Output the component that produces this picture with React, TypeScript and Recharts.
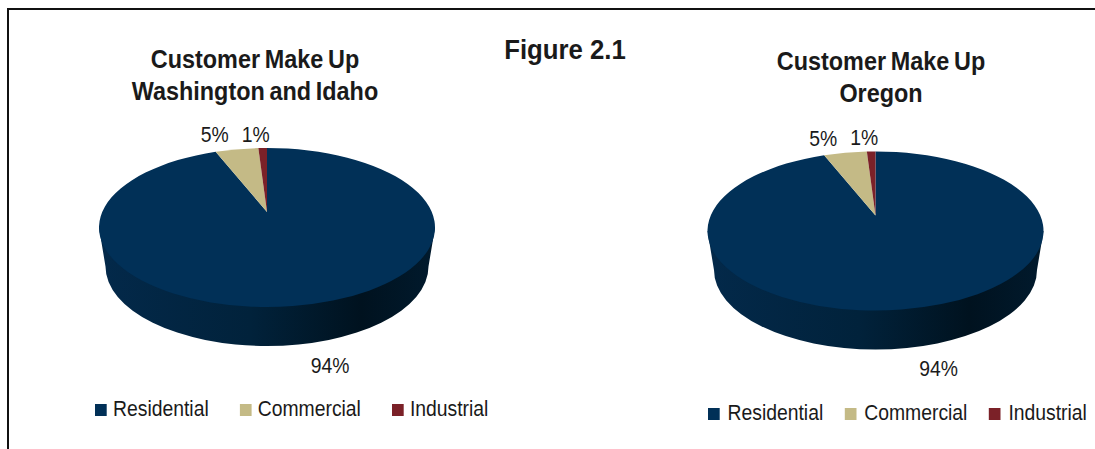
import React from 'react';
import { PieChart, Pie, Cell, Legend } from 'recharts';

const categories = ['Residential', 'Commercial', 'Industrial'];
const washingtonIdahoValues = [94, 5, 1];
const oregonValues = [94, 5, 1];

const COLORS = ['#013057', '#c4ba86', '#7b2128'];
const FONT = '"Liberation Sans", Arial, sans-serif';
const TEXT = '#1a1a1a';

// Pie geometry: the disc is seen in perspective, so the apex sits behind the ellipse centre
const RX = 168;
const RY = 79.5;
const PERSPECTIVE = 0.195;
const BOTTOM_RX = 161.5;
const DEPTH = 39;

// The text in the original is a stretched image, a bit narrower than the font
const LEGEND_SQUEEZE = 0.9;

const LABEL_NUDGE: Record<string, [number, number]> = {
  Residential: [25, 60],
  Commercial: [-22, -15],
  Industrial: [-7, -14],
};

const project = (cx: number, cy: number, angle: number) => {
  const t = ((90 - angle) * Math.PI) / 180;
  const u = Math.sin(t);
  const v = Math.cos(t);
  const d = 1 + PERSPECTIVE * v;
  return {
    x: cx + (RX * u * Math.sqrt(1 - PERSPECTIVE * PERSPECTIVE)) / d,
    y: cy - (RY * (v + PERSPECTIVE)) / d,
  };
};

const renderSlice = (gradientId: string) => (props: any) => {
  const { cx, cy, startAngle, endAngle, fill, name } = props;
  const a = project(cx, cy, startAngle);
  const b = project(cx, cy, endAngle);
  const large = Math.abs(endAngle - startAngle) > 180 ? 1 : 0;
  const top = `M${cx},${cy - RY * PERSPECTIVE} L${a.x},${a.y} A${RX},${RY} 0 ${large} 1 ${b.x},${b.y} Z`;
  // wall runs on under the top face so no seam shows along the front edge
  const wall =
    `M${cx - RX},${cy} L${cx - BOTTOM_RX},${cy + DEPTH} A${BOTTOM_RX},${RY} 0 0 0 ${cx + BOTTOM_RX},${cy + DEPTH} ` +
    `L${cx + RX},${cy} Z`;
  return (
    <g>
      {name === categories[0] && (
        <>
          <defs>
            <linearGradient id={gradientId} x1="0" y1="0" x2="1" y2="0">
              <stop offset="0%" stopColor="#03294a" />
              <stop offset="45%" stopColor="#01223b" />
              <stop offset="78%" stopColor="#00121f" />
              <stop offset="100%" stopColor="#011a2d" />
            </linearGradient>
          </defs>
          <path d={wall} fill={`url(#${gradientId})`} />
        </>
      )}
      <path d={top} fill={fill} />
    </g>
  );
};

const renderPercent = (props: any) => {
  const { cx, cy, midAngle, name, value } = props;
  const p = project(cx, cy, midAngle);
  const [dx, dy] = LABEL_NUDGE[name];
  return (
    <text
      transform={`translate(${p.x + dx},${p.y + dy}) scale(0.88,1)`}
      textAnchor="middle"
      dominantBaseline="central"
      fontFamily={FONT}
      fontSize={22}
      fill={TEXT}
    >
      {`${value}%`}
    </text>
  );
};

const makeLegend = (iconGap: number, itemGap: number) => () => (
  <div
    style={{
      display: 'flex',
      alignItems: 'center',
      fontFamily: FONT,
      fontSize: 21.5,
      color: TEXT,
      whiteSpace: 'nowrap',
      transform: `scaleX(${LEGEND_SQUEEZE})`,
      transformOrigin: 'left center',
    }}
  >
    {categories.map((c, i) => (
      <div key={c} style={{ display: 'flex', alignItems: 'center', marginRight: itemGap / LEGEND_SQUEEZE }}>
        <span style={{ width: 12 / LEGEND_SQUEEZE, height: 12, background: COLORS[i], marginRight: iconGap / LEGEND_SQUEEZE }} />
        {c}
      </div>
    ))}
  </div>
);

function MakeUpPie({ values, id, cx, cy, legendX, legendY, iconGap, itemGap }: any) {
  const data = categories.map((name, i) => ({ name, value: values[i] }));
  return (
    <PieChart width={560} height={449} margin={{ top: 0, right: 0, bottom: 0, left: 0 }}>
      <Pie
        data={data}
        dataKey="value"
        nameKey="name"
        cx={cx}
        cy={cy}
        outerRadius={RX}
        startAngle={90}
        endAngle={-270}
        stroke="none"
        labelLine={false}
        label={renderPercent}
        shape={renderSlice(id)}
        isAnimationActive={false}
      >
        {data.map((d, i) => (
          <Cell key={d.name} fill={COLORS[i]} />
        ))}
      </Pie>
      <Legend
        content={makeLegend(iconGap, itemGap)}
        wrapperStyle={{ position: 'absolute', left: legendX, top: legendY, width: 520, bottom: 'auto' }}
      />
    </PieChart>
  );
}

const titleStyle: React.CSSProperties = {
  position: 'absolute',
  width: 400,
  textAlign: 'center',
  fontFamily: FONT,
  fontWeight: 'bold',
  fontSize: 26,
  lineHeight: '32px',
  wordSpacing: -2,
  color: TEXT,
  transform: 'scaleX(0.9)',
};

export default function App() {
  return (
    <div style={{ position: 'absolute', left: 0, top: 0, width: 1095, height: 449, overflow: 'hidden', background: '#fff' }}>
      <div style={{ position: 'absolute', left: 7, top: 8, width: 1088, height: 441, borderTop: '2px solid #111', borderLeft: '2px solid #111', boxSizing: 'border-box' }} />
      <div style={{ position: 'absolute', left: 0, top: 0 }}>
        <MakeUpPie values={washingtonIdahoValues} id="wallLeft" cx={267} cy={227.5} legendX={95} legendY={397} iconGap={6} itemGap={31} />
      </div>
      <div style={{ position: 'absolute', left: 535, top: 0 }}>
        <MakeUpPie values={oregonValues} id="wallRight" cx={340.5} cy={231} legendX={173} legendY={401} iconGap={7.5} itemGap={21.5} />
      </div>
      <div style={{ ...titleStyle, left: 55, top: 43 }}>Customer Make Up<br />Washington and Idaho</div>
      <div style={{ ...titleStyle, left: 681, top: 45 }}>Customer Make Up<br />Oregon</div>
      <div style={{ ...titleStyle, left: 365, top: 34, fontSize: 28, wordSpacing: 0, transform: 'scaleX(0.92)' }}>Figure 2.1</div>
    </div>
  );
}
